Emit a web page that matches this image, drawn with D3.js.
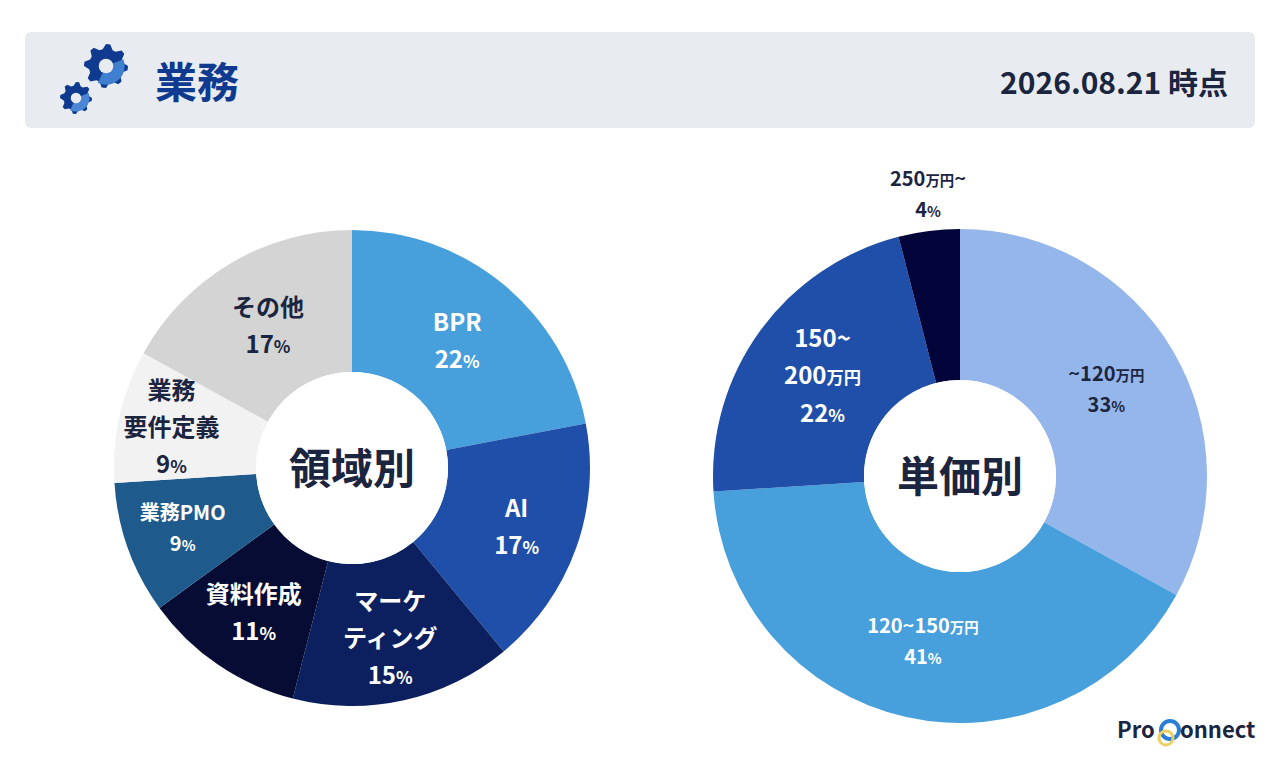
<!DOCTYPE html>
<html><head><meta charset="utf-8">
<script src="https://cdn.jsdelivr.net/npm/d3@7"></script>
<style>body{margin:0;background:#fff}text{font-family:"Noto Sans CJK JP","Noto Sans",sans-serif;font-weight:700}</style>
</head><body><div id="chart"></div>
<script>
const fieldLabels = [['BPR'], ['AI'], ['マーケ', 'ティング'], ['資料作成'], ['業務PMO'], ['業務', '要件定義'], ['その他']];
const fieldValues = [22, 17, 15, 11, 9, 9, 17];
const fieldColors = ['#479fdc', '#1f4fa8', '#0c1f5e', '#060c33', '#1e5b8c', '#f2f2f2', '#d4d4d4'];
const priceLabels = [['~120万円'], ['120~150万円'], ['150~', '200万円'], ['250万円~']];
const priceValues = [33, 41, 22, 4];
const priceColors = ['#95b6ea', '#479fdc', '#1f4fa8', '#03053a'];

const svg = d3.select('#chart').append('svg').attr('width', 1280).attr('height', 768);
const dark = '#1b2540';

// header
svg.append('rect').attr('x', 25).attr('y', 32).attr('width', 1230).attr('height', 96).attr('rx', 6).attr('fill', '#e8ecf0');
svg.append('text').attr('x', 155).attr('y', 98).attr('font-size', 42).attr('fill', '#0f3a8f').text('業務');
svg.append('text').attr('x', 1228).attr('y', 94).attr('text-anchor', 'end').attr('font-size', 30).attr('fill', dark).text('2026.08.21  時点');

function gear(cx, cy, r, teeth, c1, c2) {
  const g = svg.append('g').attr('transform', `translate(${cx},${cy})`);
  const pts = [];
  for (let i = 0; i < teeth * 4; i++) {
    const a = (i / (teeth * 4)) * 2 * Math.PI;
    const rr = (i % 4 < 2) ? r : r * 0.78;
    pts.push([Math.cos(a) * rr, Math.sin(a) * rr]);
  }
  g.append('path').attr('d', d3.line().curve(d3.curveLinearClosed)(pts)).attr('fill', c1);
  g.append('path').attr('d', d3.arc()({innerRadius: 0, outerRadius: r * 0.85, startAngle: 1.2, endAngle: 3.6})).attr('fill', c2);
  g.append('circle').attr('r', r * 0.33).attr('fill', '#e8ecf0');
}
gear(106, 66, 22, 8, '#0f3a8f', '#3f7fd0');
gear(76, 98, 16, 8, '#0f3a8f', '#4a86d4');

svg.append('text').attr('x', 1117).attr('y', 738).attr('font-size', 22).attr('fill', dark).text('Pro');
svg.append('circle').attr('cx', 1170).attr('cy', 730).attr('r', 9).attr('fill', 'none').attr('stroke', '#2a7fd4').attr('stroke-width', 4);
svg.append('circle').attr('cx', 1166).attr('cy', 738).attr('r', 7).attr('fill', 'none').attr('stroke', '#ecd064').attr('stroke-width', 3);
svg.append('text').attr('x', 1180).attr('y', 738).attr('font-size', 22).attr('fill', dark).text('onnect');

function donut(cx, cy, ro, ri, labels, values, colors, title, labelR, light) {
  const g = svg.append('g').attr('transform', `translate(${cx},${cy})`);
  const arcs = d3.pie().sort(null).value(d => d)(values);
  const arc = d3.arc().innerRadius(ri).outerRadius(ro);
  g.selectAll('path').data(arcs).enter().append('path').attr('d', arc).attr('fill', (d, i) => colors[i]);
  g.append('circle').attr('r', ri).attr('fill', '#fff');
  g.append('text').attr('text-anchor', 'middle').attr('y', 16).attr('font-size', 42).attr('fill', dark).text(title);
  arcs.forEach((d, i) => {
    const small = values[i] < 5;
    const mid = (d.startAngle + d.endAngle) / 2;
    const r = small ? ro + 40 : labelR[i];
    let x = Math.sin(mid) * r, y = -Math.cos(mid) * r;
    if (small) { x = -32; y = -ro - 35; }
    const lines = labels[i].concat([values[i] + '%']);
    const fs = lines[0].length > 4 && labels[i].length > 1 ? 20 : (labels[i][0].length > 4 ? 20 : 24);
    const lh = fs * 1.55;
    const y0 = y - (lines.length - 1) * lh / 2 + fs * 0.35;
    const fill = small ? dark : (light.includes(i) ? dark : '#fff');
    lines.forEach((t, j) => {
      const tx = g.append('text').attr('x', x).attr('y', y0 + j * lh).attr('text-anchor', 'middle')
        .attr('font-size', small && j === 0 ? 20 : fs).attr('fill', fill);
      const m = t.match(/^(.*?)(万円|%)(.*)$/);
      if (m) {
        tx.append('tspan').text(m[1]);
        tx.append('tspan').attr('font-size', (small && j === 0 ? 20 : fs) * 0.72).text(m[2]);
        if (m[3]) tx.append('tspan').text(m[3]);
      } else tx.text(t);
    });
  });
}
donut(352, 468, 238, 96, fieldLabels, fieldValues, fieldColors, '領域別', [165, 175, 175, 175, 180, 185, 165], [5, 6]);
donut(960, 476, 247, 96, priceLabels, priceValues, priceColors, '単価別', [170, 170, 170, 0], [0]);
</script></body></html>
